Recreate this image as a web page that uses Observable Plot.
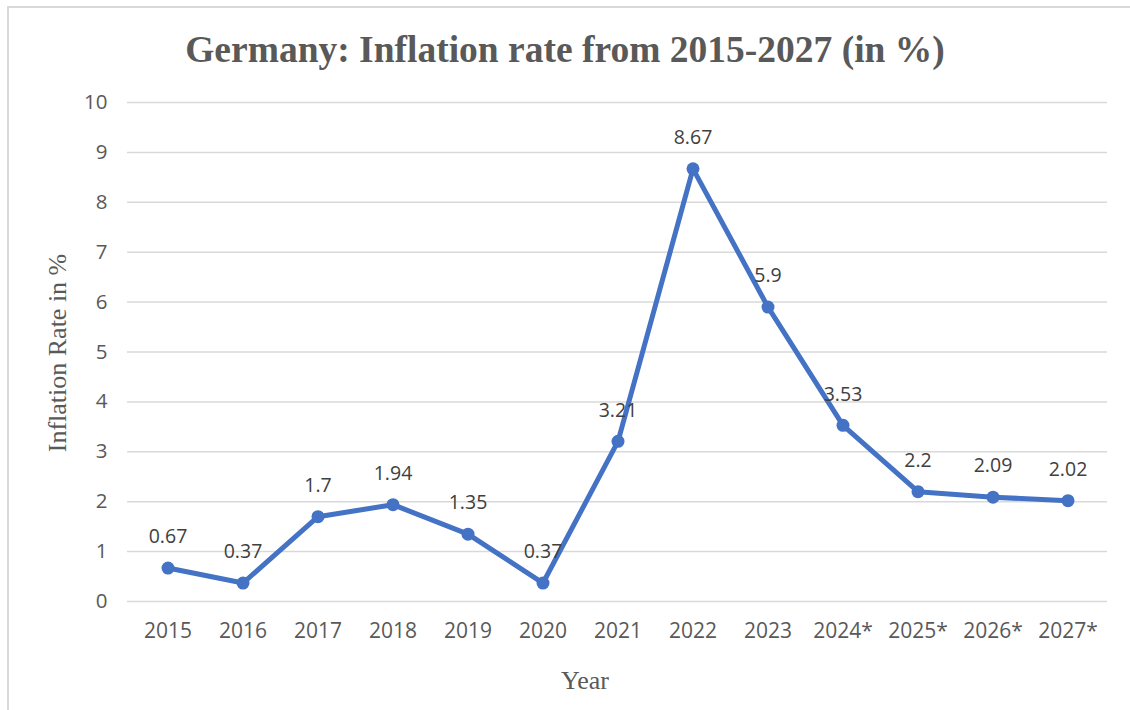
<!DOCTYPE html>
<html>
<head>
<meta charset="utf-8">
<script src="https://cdn.jsdelivr.net/npm/d3@7"></script>
<script src="https://cdn.jsdelivr.net/npm/@observablehq/plot@0.6"></script>
<style>
  html, body { margin: 0; padding: 0; background: #fff; }
  #page { position: relative; width: 1130px; height: 710px; overflow: hidden; background: #fff; }
  #frame { position: absolute; left: 7px; top: 6px; width: 1130px; height: 720px;
           border-left: 2px solid #d9d9d9; border-top: 2px solid #d9d9d9; box-sizing: border-box; }
  #title { position: absolute; left: 0; top: 27px; width: 1130px; text-align: center;
           font-family: "Liberation Serif", "Times New Roman", serif; font-weight: bold;
           font-size: 37.5px; line-height: 46px; color: #595959; }
  #chart { position: absolute; left: 0; top: 80px; }
  .axis-title { position: absolute; font-family: "Liberation Serif", "Times New Roman", serif;
                font-size: 26px; color: #595959; white-space: nowrap; }
  #ytitle { left: 58px; top: 353px; transform: translate(-50%, -50%) rotate(-90deg); }
  #xtitle { left: 585px; top: 681px; transform: translate(-50%, -50%); }
</style>
</head>
<body>
<div id="page">
  <div id="frame"></div>
  <div id="title">Germany: Inflation rate from 2015-2027 (in %)</div>
  <div id="chart"></div>
  <div class="axis-title" id="ytitle">Inflation Rate in %</div>
  <div class="axis-title" id="xtitle">Year</div>
</div>
<script>
const years = ["2015", "2016", "2017", "2018", "2019", "2020", "2021", "2022", "2023", "2024*", "2025*", "2026*", "2027*"];
const rates = [0.67, 0.37, 1.7, 1.94, 1.35, 0.37, 3.21, 8.67, 5.9, 3.53, 2.2, 2.09, 2.02];
const yTicks = [0, 1, 2, 3, 4, 5, 6, 7, 8, 9, 10];

const data = years.map((year, i) => ({year, value: rates[i]}));

const chart = Plot.plot({
  width: 1130,
  height: 630,
  marginLeft: 127,
  marginRight: 23,
  marginTop: 22,
  marginBottom: 109,
  style: {fontFamily: "'Open Sans', sans-serif", color: "#595959", background: "transparent"},
  x: {type: "band", domain: years, padding: 0},
  y: {domain: [0, 10]},
  marks: [
    Plot.gridY(yTicks, {stroke: "#d9d9d9", strokeOpacity: 1, strokeWidth: 1.5}),
    Plot.axisY(yTicks, {tickSize: 0, tickPadding: 20, fontSize: 20.5, label: null, fill: "#595959", tickFormat: d => String(d)}),
    Plot.axisX({tickSize: 0, tickPadding: 22, fontSize: 21, label: null, fill: "#595959"}),
    Plot.line(data, {x: "year", y: "value", stroke: "#4472C4", strokeWidth: 5, strokeLinejoin: "round"}),
    Plot.dot(data, {x: "year", y: "value", r: 6.5, fill: "#4472C4", stroke: "none"}),
    Plot.text(data, {x: "year", y: "value", text: d => String(d.value), dy: -31, fontSize: 19.5, fill: "#404040"})
  ]
});
document.getElementById("chart").appendChild(chart);
</script>
</body>
</html>
